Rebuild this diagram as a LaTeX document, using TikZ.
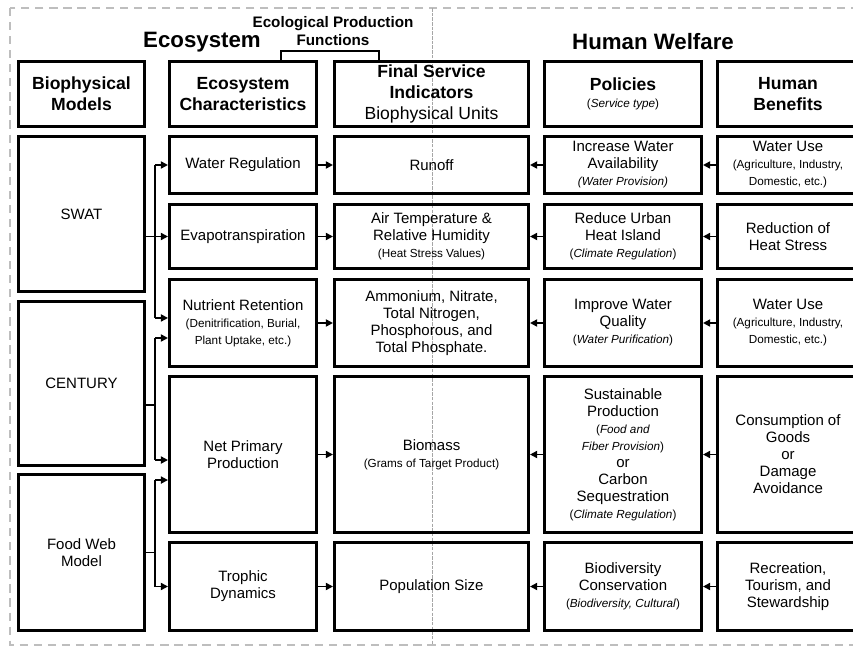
\documentclass[tikz,border=0pt]{standalone}
\usepackage{fontspec}
\setmainfont{Liberation Sans}
\usepackage{tikz}
\usetikzlibrary{arrows.meta,positioning}
\definecolor{framegray}{RGB}{190,190,190}
\newcommand{\smalltxt}[1]{{\fontsize{10}{12}\selectfont #1}}
\tikzstyle{box} = [draw, line width=2.6pt, align=center, inner sep=0pt, font=\fontsize{12.8}{14.5}\selectfont]
\tikzstyle{headbox} = [box, font=\bfseries\fontsize{15}{18}\selectfont]
\tikzstyle{title} = [font=\bfseries\fontsize{19}{22}\selectfont]
\tikzstyle{colA} = [minimum width=3.78cm]
\tikzstyle{colB} = [minimum width=4.41cm]
\tikzstyle{colC} = [minimum width=5.82cm]
\tikzstyle{colD} = [minimum width=4.71cm]
\tikzstyle{colE} = [minimum width=4.23cm]
\tikzstyle{link} = [line width=1.4pt]
\tikzstyle{arrow} = [link, -{Triangle[length=6pt,width=6pt]}]

\begin{document}
\begin{tikzpicture}[x=0.03cm, y=-0.03cm]
\useasboundingbox (0,0) rectangle (853,648);
\clip (0,0) rectangle (853,648);

% Frame and divider
\draw[framegray, line width=1.8pt, dash pattern=on 7pt off 5pt] (10,8) rectangle (880,645);
\draw[gray!70, line width=0.5pt, dash pattern=on 3pt off 1pt] (432,8) -- (432,645);

% Titles
\node[title] (eco) at (202,42) {Ecosystem};
\node[title] (welfare) at (653,42) {Human Welfare};
\node[font=\bfseries\fontsize{13}{15.5}\selectfont, align=center] (epf) at (333,31) {Ecological Production\\Functions};

% Header row
\node[headbox, colA, minimum height=1.95cm] (hbio) at (81.5,94) {Biophysical\\Models};
\node[headbox, colB, minimum height=1.95cm] (hchar) at (243,94) {Ecosystem\\Characteristics};
\node[headbox, colC, minimum height=1.95cm] (hfinal) at (431.5,94) {Final Service\\Indicators\\{\mdseries Biophysical Units}};
\node[headbox, colD, minimum height=1.95cm] (hpol) at (623,94) {Policies\\[-3pt]{\mdseries\smalltxt{(\textit{Service type})}}};
\node[headbox, colE, minimum height=1.95cm] (hben) at (788,94) {Human\\Benefits};

% Bracket over production functions
\draw[line width=2.2pt] (281,0 |- hchar.north) -- (281,51) -- (379,51) -- (379,0 |- hfinal.north);

% Biophysical models
\node[box, colA, minimum height=4.65cm] (swat) at (81.5,214) {SWAT};
\node[box, colA, minimum height=4.92cm] (century) at (81.5,383.5) {CENTURY};
\node[box, colA, minimum height=4.68cm] (foodweb) at (81.5,552.5) {Food Web\\Model};

% Ecosystem characteristics
\node[box, colB, minimum height=1.71cm] (wreg) at (243,165) {Water Regulation};
\node[box, colB, minimum height=1.92cm] (evap) at (243,236.5) {Evapotranspiration};
\node[box, colB, minimum height=2.61cm] (nutr) at (243,323) {Nutrient Retention\\\smalltxt{(Denitrification, Burial,}\\\smalltxt{Plant Uptake, etc.)}};
\node[box, colB, minimum height=4.68cm] (npp) at (243,454.5) {Net Primary\\Production};
\node[box, colB, minimum height=2.64cm] (troph) at (243,586.5) {Trophic\\Dynamics};

% Final service indicators
\node[box, colC, minimum height=1.71cm] (runoff) at (431.5,165) {Runoff};
\node[box, colC, minimum height=1.92cm] (airtemp) at (431.5,236.5) {Air Temperature \&\\Relative Humidity\\\smalltxt{(Heat Stress Values)}};
\node[box, colC, minimum height=2.61cm] (chem) at (431.5,323) {Ammonium, Nitrate,\\Total Nitrogen,\\Phosphorous, and\\Total Phosphate.};
\node[box, colC, minimum height=4.68cm] (biomass) at (431.5,454.5) {Biomass\\\smalltxt{(Grams of Target Product)}};
\node[box, colC, minimum height=2.64cm] (popsize) at (431.5,586.5) {Population Size};

% Policies
\node[box, colD, minimum height=1.71cm] (waterav) at (623,165) {Increase Water\\Availability\\\smalltxt{\textit{(Water Provision)}}};
\node[box, colD, minimum height=1.92cm] (heatisl) at (623,236.5) {Reduce Urban\\Heat Island\\\smalltxt{(\textit{Climate Regulation})}};
\node[box, colD, minimum height=2.61cm] (waterq) at (623,323) {Improve Water\\Quality\\\smalltxt{(\textit{Water Purification})}};
\node[box, colD, minimum height=4.68cm] (sustprod) at (623,454.5) {Sustainable\\Production\\\smalltxt{(\textit{Food and}}\\\smalltxt{\textit{Fiber Provision})}\\or\\Carbon\\Sequestration\\\smalltxt{(\textit{Climate Regulation})}};
\node[box, colD, minimum height=2.64cm] (biodiv) at (623,586.5) {Biodiversity\\Conservation\\\smalltxt{(\textit{Biodiversity, Cultural})}};

% Human benefits
\node[box, colE, minimum height=1.71cm] (wateruse) at (788,165) {Water Use\\\smalltxt{(Agriculture, Industry,}\\\smalltxt{Domestic, etc.)}};
\node[box, colE, minimum height=1.92cm] (heatstr) at (788,236.5) {Reduction of\\Heat Stress};
\node[box, colE, minimum height=2.61cm] (wateruseb) at (788,323) {Water Use\\\smalltxt{(Agriculture, Industry,}\\\smalltxt{Domestic, etc.)}};
\node[box, colE, minimum height=4.68cm] (goods) at (788,454.5) {Consumption of\\Goods\\or\\Damage\\Avoidance};
\node[box, colE, minimum height=2.64cm] (recr) at (788,586.5) {Recreation,\\Tourism, and\\Stewardship};

% Model outputs
\coordinate (bus) at (155,0);
\coordinate (nutrA) at ([yshift=4.3pt]nutr.west);
\coordinate (nutrB) at ([yshift=-12.8pt]nutr.west);
\coordinate (nppA) at ([yshift=-4.7pt]npp.west);
\coordinate (nppB) at ([yshift=-21.8pt]npp.west);
\coordinate (centout) at ([yshift=-18.4pt]century.east);

% SWAT
\draw[link] (bus |- wreg.west) -- (bus |- nutrA);
\draw[arrow] (bus |- wreg.west) -- (wreg.west);
\draw[arrow] (swat.east |- evap.west) -- (evap.west);
\draw[arrow] (bus |- nutrA) -- (nutrA);

% CENTURY
\draw[link] (bus |- nutrB) -- (bus |- nppA);
\draw[link] (centout) -- (bus |- centout);
\draw[arrow] (bus |- nutrB) -- (nutrB);
\draw[arrow] (bus |- nppA) -- (nppA);

% Food web model
\draw[link] (bus |- nppB) -- (bus |- troph.west);
\draw[link] (foodweb.east) -- (bus |- foodweb.east);
\draw[arrow] (bus |- nppB) -- (nppB);
\draw[arrow] (bus |- troph.west) -- (troph.west);

% Characteristics to indicators
\draw[arrow] (wreg) -- (runoff);
\draw[arrow] (evap) -- (airtemp);
\draw[arrow] (nutr) -- (chem);
\draw[arrow] (npp) -- (biomass);
\draw[arrow] (troph) -- (popsize);

% Policies to indicators
\draw[arrow] (waterav) -- (runoff);
\draw[arrow] (heatisl) -- (airtemp);
\draw[arrow] (waterq) -- (chem);
\draw[arrow] (sustprod) -- (biomass);
\draw[arrow] (biodiv) -- (popsize);

% Benefits to policies
\draw[arrow] (wateruse) -- (waterav);
\draw[arrow] (heatstr) -- (heatisl);
\draw[arrow] (wateruseb) -- (waterq);
\draw[arrow] (goods) -- (sustprod);
\draw[arrow] (recr) -- (biodiv);
\end{tikzpicture}
\end{document}
